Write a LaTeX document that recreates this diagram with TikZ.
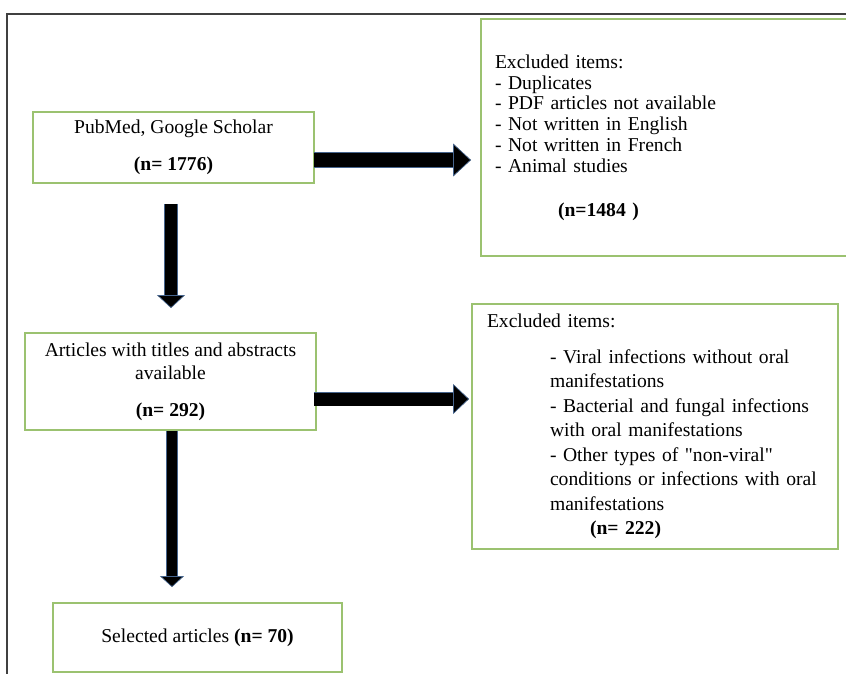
\documentclass[tikz,border=0pt]{standalone}
\usepackage{fontspec}
\setmainfont{Liberation Serif}[Ligatures=TeXOff]
\usetikzlibrary{arrows.meta,calc}

\definecolor{boxgreen}{RGB}{155,194,112}
\definecolor{framegray}{RGB}{64,64,64}
\definecolor{arredge}{RGB}{70,100,140}

\begin{document}
\begin{tikzpicture}[
  x=1pt, y=-1pt,
  box/.style={
    rectangle, draw=boxgreen, line width=1.8pt, inner sep=0pt, align=center
  },
  fatarrow/.style n args={3}{
    line width=#1, draw=black,
    preaction={draw=arredge, line width=#1+1.4pt, arrows=-, shorten >=#3-1pt},
    -{Triangle[width=#2, length=#3, fill=black, color=arredge, line width=0.7pt]}
  },
  txt/.style={font=\fontsize{19.6}{#1}\selectfont}
]
\useasboundingbox (0,0) rectangle (846,673);

% Outer frame (only top and left edges visible)
\draw[framegray, line width=1.5pt] (7,700) -- (7,14) -- (870,14);

% Boxes
\node[box, txt=23, minimum width=281pt, minimum height=71pt] (pub) at (173.5,147.5)
  {PubMed, Google Scholar\\[14pt]\textbf{(n= 1776)}};
\node[box, txt=20.8, minimum width=380pt, minimum height=237pt,
  text width=352pt, align=left] (excl1) at (671,137.5)
  {Excluded items:\\- Duplicates\\- PDF articles not available\\- Not written in English\\
   - Not written in French\\- Animal studies\\[23pt]\hspace*{63pt}\textbf{(n=1484 )}};
\node[box, txt=23, minimum width=291pt, minimum height=97pt] (abst) at (170.5,381.5)
  {Articles with titles and abstracts\\available\\[14pt]\textbf{(n= 292)}};
\node[box, txt=24.5, minimum width=366pt, minimum height=245pt,
  text width=336pt, align=left] (excl2) at (655,426.5)
  {Excluded items:\\[11.5pt]
   \hspace*{63pt}- Viral infections without oral\\
   \hspace*{63pt}manifestations\\
   \hspace*{63pt}- Bacterial and fungal infections\\
   \hspace*{63pt}with oral manifestations\\
   \hspace*{63pt}- Other types of "non-viral"\\
   \hspace*{63pt}conditions or infections with oral\\
   \hspace*{63pt}manifestations\\
   \hspace*{103pt}\textbf{(n= 222)}};
\node[box, txt=23, minimum width=289pt, minimum height=69pt] (sel) at (197.5,637.5)
  {Selected articles \textbf{(n= 70)}};

% Block arrows
\draw[fatarrow={12pt}{28pt}{13pt}] ($(pub.south)+(-2.5,20)$) -- ($(abst.north)+(0.5,-24)$);
\draw[fatarrow={14pt}{33pt}{18pt}] ($(pub.east)+(-1,12.5)$) -- ($(excl1.west)+(-9,22.5)$);
\draw[fatarrow={13pt}{30pt}{16pt}] ($(abst.east)+(-3,17.5)$) -- ($(excl2.west)+(-2,-27.5)$);
\draw[fatarrow={10pt}{24pt}{11pt}] ($(abst.south)+(1.5,0)$) -- ($(sel.north)+(-25.5,-15)$);

\end{tikzpicture}
\end{document}
